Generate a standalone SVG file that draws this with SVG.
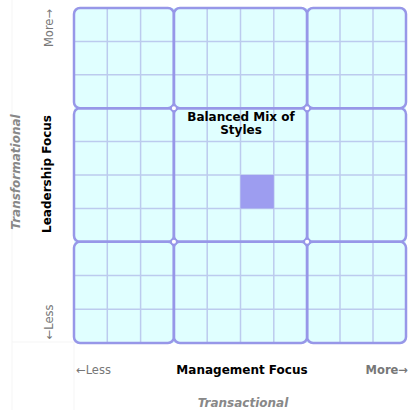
<svg xmlns="http://www.w3.org/2000/svg" width="408" height="410" viewBox="0 0 408 410">
<style>
.blk{fill:#e0ffff;stroke:none}
.blko{fill:none;stroke:#9797e8;stroke-width:2.5}
.mn{stroke:#bccbee;stroke-width:1.5}
.jn{fill:#ffffff;stroke:#9797e8;stroke-width:1.5}
.faint{stroke:#f5f5f5;stroke-width:1}
.t{font-family:"DejaVu Sans","Verdana",sans-serif}
.sm{font-size:11.5px;fill:#777777}
.lab{font-size:12px;font-weight:bold;fill:#000000}
.cat{font-size:12px;font-weight:bold;font-style:italic;fill:#888888}
</style>
<rect x="0" y="0" width="408" height="410" fill="#ffffff"/>
<g id="background-lines">
<line class="faint" x1="12" y1="0" x2="12" y2="410"/>
<line class="faint" x1="74" y1="342" x2="74" y2="410"/>
<line class="faint" x1="12" y1="342" x2="74" y2="342"/>
</g>
<g id="grid">
<g id="fills">
<rect class="blk" x="74" y="8" width="332" height="335" rx="6"/>
</g>
<g id="minor-lines">
<line class="mn" x1="107.3" y1="8" x2="107.3" y2="343"/>
<line class="mn" x1="140.6" y1="8" x2="140.6" y2="343"/>
<line class="mn" x1="207.2" y1="8" x2="207.2" y2="343"/>
<line class="mn" x1="240.5" y1="8" x2="240.5" y2="343"/>
<line class="mn" x1="273.8" y1="8" x2="273.8" y2="343"/>
<line class="mn" x1="340" y1="8" x2="340" y2="343"/>
<line class="mn" x1="373" y1="8" x2="373" y2="343"/>
<line class="mn" x1="74" y1="41.4" x2="406" y2="41.4"/>
<line class="mn" x1="74" y1="74.8" x2="406" y2="74.8"/>
<line class="mn" x1="74" y1="141.6" x2="406" y2="141.6"/>
<line class="mn" x1="74" y1="175" x2="406" y2="175"/>
<line class="mn" x1="74" y1="208.4" x2="406" y2="208.4"/>
<line class="mn" x1="74" y1="275.5" x2="406" y2="275.5"/>
<line class="mn" x1="74" y1="309.2" x2="406" y2="309.2"/>
</g>
<g id="marker-square">
<rect x="240.5" y="175" width="33.3" height="33.4" fill="#9d9df0"/>
</g>
<g id="blocks">
<g id="block-tl"><rect class="blko" x="74" y="8" width="99.9" height="100.2" rx="6"/></g>
<g id="block-tc"><rect class="blko" x="173.9" y="8" width="133.2" height="100.2" rx="6"/></g>
<g id="block-tr"><rect class="blko" x="307.1" y="8" width="98.9" height="100.2" rx="6"/></g>
<g id="block-ml"><rect class="blko" x="74" y="108.2" width="99.9" height="133.6" rx="6"/></g>
<g id="block-mc"><rect class="blko" x="173.9" y="108.2" width="133.2" height="133.6" rx="6"/></g>
<g id="block-mr"><rect class="blko" x="307.1" y="108.2" width="98.9" height="133.6" rx="6"/></g>
<g id="block-bl"><rect class="blko" x="74" y="241.8" width="99.9" height="101.2" rx="6"/></g>
<g id="block-bc"><rect class="blko" x="173.9" y="241.8" width="133.2" height="101.2" rx="6"/></g>
<g id="block-br"><rect class="blko" x="307.1" y="241.8" width="98.9" height="101.2" rx="6"/></g>
</g>
<g id="junctions">
<circle class="jn" cx="173.9" cy="108.2" r="2.8"/>
<circle class="jn" cx="307.1" cy="108.2" r="2.8"/>
<circle class="jn" cx="173.9" cy="241.8" r="2.8"/>
<circle class="jn" cx="307.1" cy="241.8" r="2.8"/>
</g>
</g>
<g id="center-label">
<text class="t lab" x="241" y="121" text-anchor="middle">Balanced Mix of</text>
<text class="t lab" x="241" y="134" text-anchor="middle">Styles</text>
</g>
<g id="y-axis">
<text class="t sm" transform="translate(53,28) rotate(-90)" text-anchor="middle">More→</text>
<text class="t sm" transform="translate(53,322) rotate(-90)" text-anchor="middle">←Less</text>
<text class="t lab" transform="translate(51,174) rotate(-90)" text-anchor="middle">Leadership Focus</text>
<text class="t cat" transform="translate(20,172) rotate(-90)" text-anchor="middle">Transformational</text>
</g>
<g id="x-axis">
<text class="t sm" x="76" y="374">←Less</text>
<text class="t lab" x="242" y="374" text-anchor="middle">Management Focus</text>
<text class="t sm" x="408" y="374" text-anchor="end" font-weight="bold">More→</text>
<text class="t cat" x="243" y="407" text-anchor="middle">Transactional</text>
</g>
</svg>
